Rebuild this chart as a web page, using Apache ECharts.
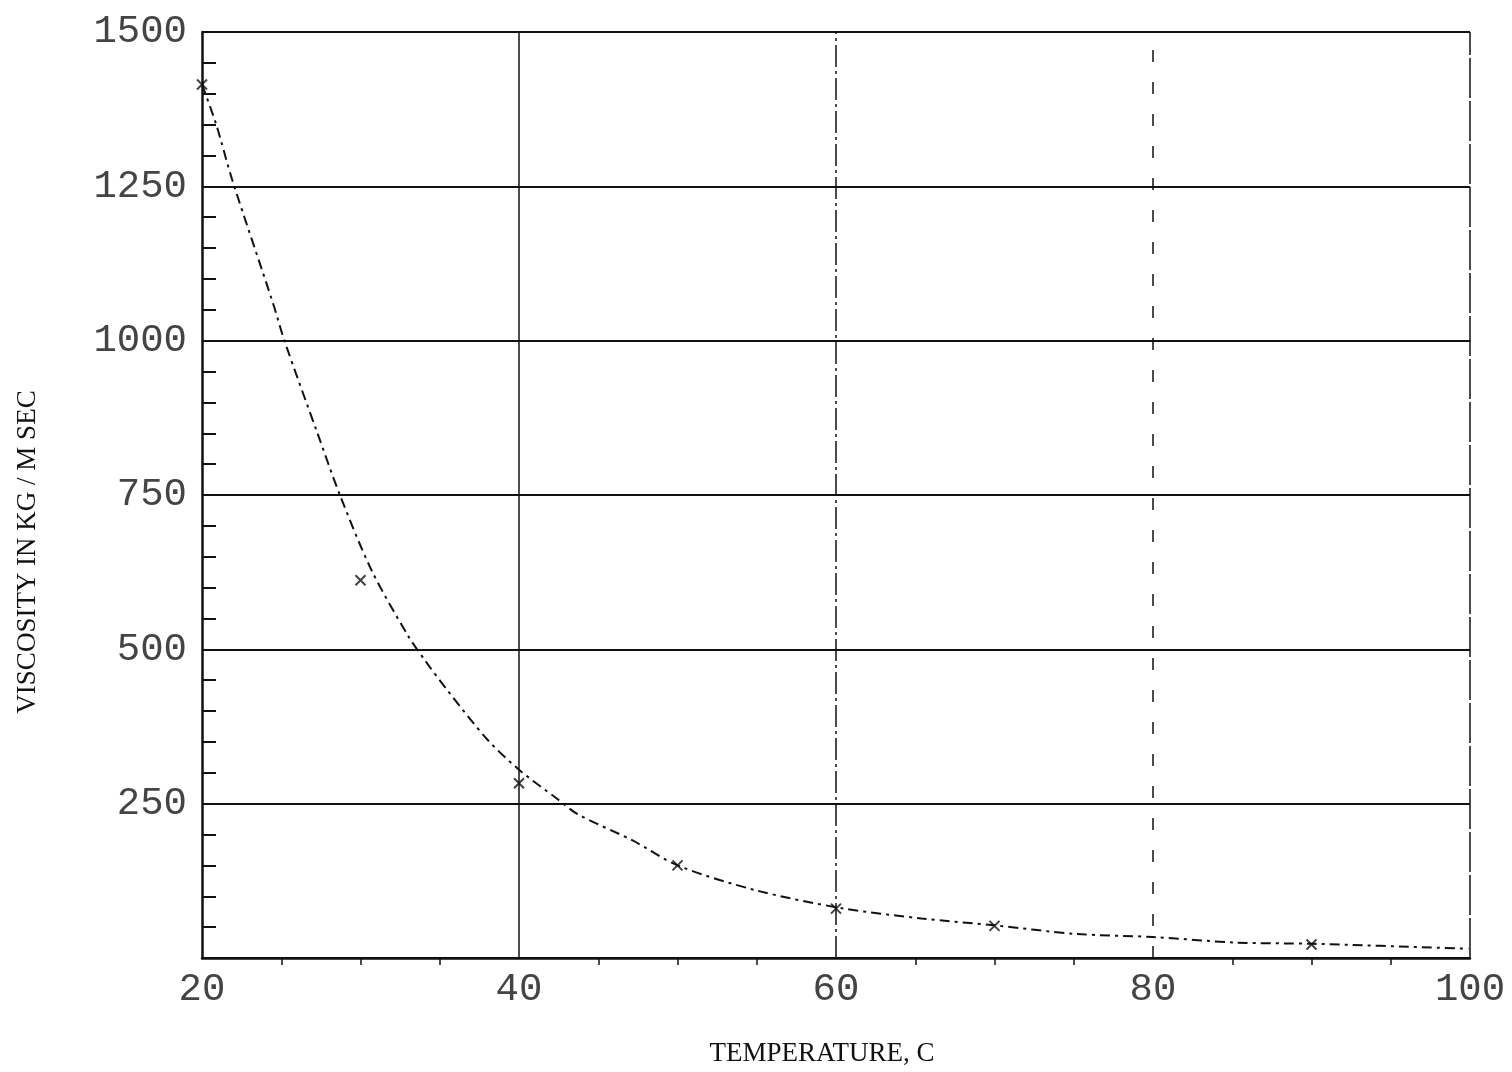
<!DOCTYPE html>
<html>
<head>
<meta charset="utf-8">
<script src="https://cdn.jsdelivr.net/npm/echarts@6/dist/echarts.min.js"></script>
<style>html,body{margin:0;padding:0;background:#fff}#c{width:1512px;height:1072px}</style>
</head>
<body>
<div id="c"></div>
<script>
// Fitted curve
const curveX = [20, 20.9, 21.9, 24.5, 25.2, 27.3, 28.7, 30.7, 33.0, 34.1, 35.5, 38.0, 40.0, 42.4, 43.7, 47.2, 50.0, 54.9, 60.3, 65.4, 70.0, 75.1, 80.0, 85.2, 90.1, 99.9];
const curveY = [1415, 1350, 1261, 1059, 1000, 849, 750, 628, 522, 481, 433, 354, 305, 258, 233, 190, 150, 110, 81, 64, 53, 39, 34, 25, 23, 15];
// Measured points (markers)
const pointX = [20, 30, 40, 50, 60, 70, 90];
const pointY = [1415, 612, 283, 150, 80, 52, 22];
// Vertical reference lines
const vLines = [40, 60, 80, 100];
const xTicks = [20, 40, 60, 80, 100];
const yTicks = [0, 250, 500, 750, 1000, 1250, 1500];

const chart = echarts.init(document.getElementById('c'));
const vStyles = [
  {type: 'solid', width: 1.5},
  {type: [22, 4, 3, 4], width: 1.5},
  {type: [12, 20], width: 1.5},
  {type: [40, 3], width: 1.5}
];
chart.setOption({
  backgroundColor: '#fff',
  animation: false,
  grid: {left: 202, right: 42, top: 32, bottom: 114, outerBoundsMode: 'none', containLabel: false},
  xAxis: {
    type: 'value', min: 20, max: 100, interval: 20,
    name: 'TEMPERATURE, C', nameLocation: 'middle', nameGap: 82,
    nameTextStyle: {fontFamily: 'Liberation Serif', fontSize: 27, color: '#111', padding: [0, 28, 0, 0]},
    axisLine: {show: true, onZero: false, lineStyle: {color: '#111', width: 2.5}},
    axisTick: {show: false},
    minorTick: {show: true, splitNumber: 4, length: 7, lineStyle: {color: '#111', width: 1.5}},
    axisLabel: {
      fontFamily: 'Liberation Mono', fontSize: 39, color: '#444', margin: 12,
      formatter: v => xTicks.includes(v) ? String(v) : ''
    },
    splitLine: {show: false}
  },
  yAxis: {
    type: 'value', min: 0, max: 1500, interval: 250,
    name: 'VISCOSITY IN KG / M SEC', nameLocation: 'middle', nameGap: 161, nameRotate: 90,
    nameTextStyle: {fontFamily: 'Liberation Serif', fontSize: 27, color: '#111', padding: [0, 114, 0, 0]},
    axisLine: {show: true, lineStyle: {color: '#111', width: 2.5}},
    axisTick: {show: false},
    minorTick: {show: true, splitNumber: 5, length: -14, lineStyle: {color: '#111', width: 2}},
    axisLabel: {
      fontFamily: 'Liberation Mono', fontSize: 39, color: '#444', margin: 15,
      formatter: v => yTicks.includes(v) && v !== 0 ? String(v) : ''
    },
    splitLine: {show: true, lineStyle: {color: '#111', width: 2}}
  },
  series: [
    {
      type: 'line',
      data: curveX.map((x, i) => [x, curveY[i]]),
      smooth: 0.3,
      symbol: 'none',
      lineStyle: {color: '#111', width: 2, type: [10, 5, 3, 5]},
      markLine: {
        silent: true, symbol: 'none', label: {show: false},
        data: vLines.map((v, i) => ({xAxis: v, lineStyle: Object.assign({color: '#111'}, vStyles[i])}))
      },
      z: 3
    },
    {
      type: 'scatter',
      data: pointX.map((x, i) => [x, pointY[i]]),
      symbol: 'path://M0,0 L10,10 M10,0 L0,10',
      symbolSize: 10,
      itemStyle: {color: 'none', borderColor: '#111', borderWidth: 2},
      z: 4
    }
  ]
});
</script>
</body>
</html>
